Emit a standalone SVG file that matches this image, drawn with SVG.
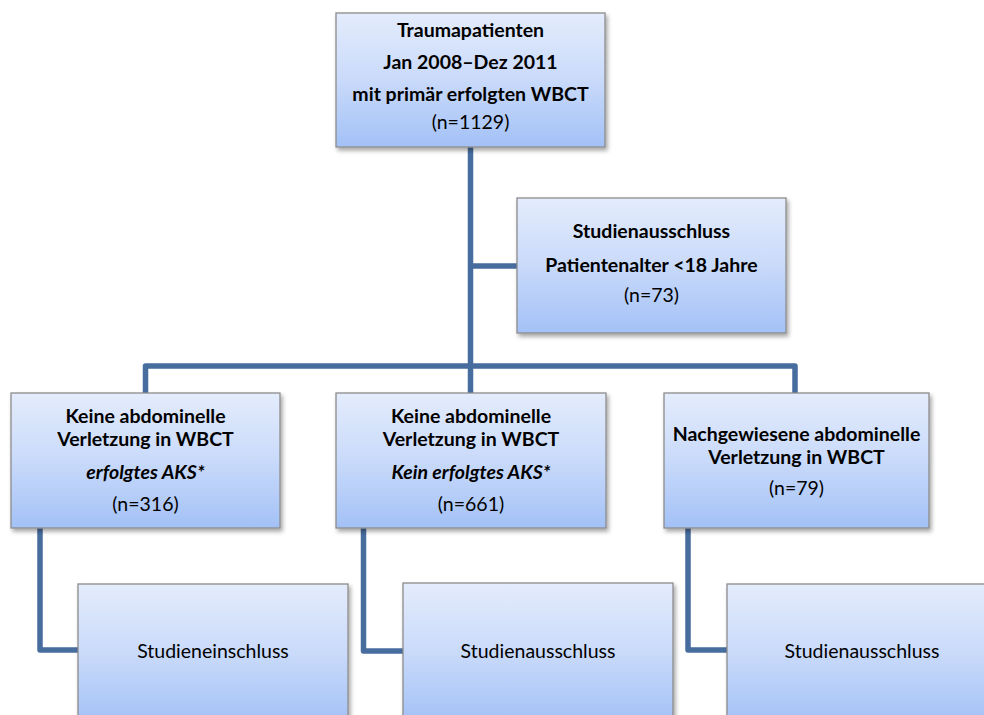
<svg xmlns="http://www.w3.org/2000/svg" width="984" height="715" viewBox="0 0 984 715">
<defs>
<linearGradient id="g" x1="0" y1="0" x2="0" y2="1">
<stop offset="0" stop-color="#e4ecfc"/>
<stop offset="0.5" stop-color="#c9dafa"/>
<stop offset="1" stop-color="#a3c1f6"/>
</linearGradient>
<filter id="sh" x="-10%" y="-10%" width="125%" height="130%">
<feDropShadow dx="2" dy="3" stdDeviation="2" flood-color="#000" flood-opacity="0.35"/>
</filter>
</defs>
<style>
.box{fill:url(#g);stroke:#8c8c8c;stroke-width:1.3;filter:url(#sh)}
.c{fill:none;stroke:#466d9e;stroke-width:5.5;stroke-linejoin:round}
text{font-family:Lato,"Open Sans","Liberation Sans",sans-serif;fill:#000;text-anchor:middle}
.b{font-weight:bold;font-size:19.5px}
.r{font-size:19.5px}
.i{font-weight:bold;font-style:italic;font-size:19.5px}
</style>
<rect width="984" height="715" fill="#fff"/>
<g id="connectors">
<path class="c" d="M470.5,147 V366"/>
<path class="c" d="M470.5,266 H517"/>
<path class="c" d="M145.5,393 V366 H795 V393"/>
<path class="c" d="M470.5,366 V393"/>
<path class="c" d="M40,528 V650 H78"/>
<path class="c" d="M363.5,528 V651 H403"/>
<path class="c" d="M688,528 V650 H727"/>
</g>
<g id="n-top">
<rect class="box" x="336" y="13" width="269" height="134"/>
<text class="b" x="470.5" y="37">Traumapatienten</text>
<text class="b" x="470.5" y="69">Jan 2008–Dez 2011</text>
<text class="b" x="470.5" y="101">mit primär erfolgten WBCT</text>
<text class="r" x="470.5" y="129">(n=1129)</text>
</g>
<g id="n-excl-age">
<rect class="box" x="517" y="198" width="269" height="135"/>
<text class="b" x="651.5" y="238">Studienausschluss</text>
<text class="b" x="651.5" y="272">Patientenalter &lt;18 Jahre</text>
<text class="r" x="651.5" y="302">(n=73)</text>
</g>
<g id="n-left">
<rect class="box" x="11" y="393" width="269" height="135"/>
<text class="b" x="145.5" y="423">Keine abdominelle</text>
<text class="b" x="145.5" y="446">Verletzung in WBCT</text>
<text class="i" x="145.5" y="479">erfolgtes AKS*</text>
<text class="r" x="145.5" y="511">(n=316)</text>
</g>
<g id="n-mid">
<rect class="box" x="336" y="393" width="270" height="135"/>
<text class="b" x="471" y="423">Keine abdominelle</text>
<text class="b" x="471" y="446">Verletzung in WBCT</text>
<text class="i" x="471" y="479">Kein erfolgtes AKS*</text>
<text class="r" x="471" y="511">(n=661)</text>
</g>
<g id="n-right">
<rect class="box" x="664" y="393" width="265" height="135"/>
<text class="b" x="796.5" y="441">Nachgewiesene abdominelle</text>
<text class="b" x="796.5" y="464">Verletzung in WBCT</text>
<text class="r" x="796.5" y="495">(n=79)</text>
</g>
<g id="n-incl">
<rect class="box" x="78" y="584" width="270" height="140"/>
<text class="r" x="213" y="658">Studieneinschluss</text>
</g>
<g id="n-excl-mid">
<rect class="box" x="403" y="583" width="270" height="140"/>
<text class="r" x="538" y="658">Studienausschluss</text>
</g>
<g id="n-excl-right">
<rect class="box" x="727" y="584" width="270" height="140"/>
<text class="r" x="862" y="658">Studienausschluss</text>
</g>
</svg>
